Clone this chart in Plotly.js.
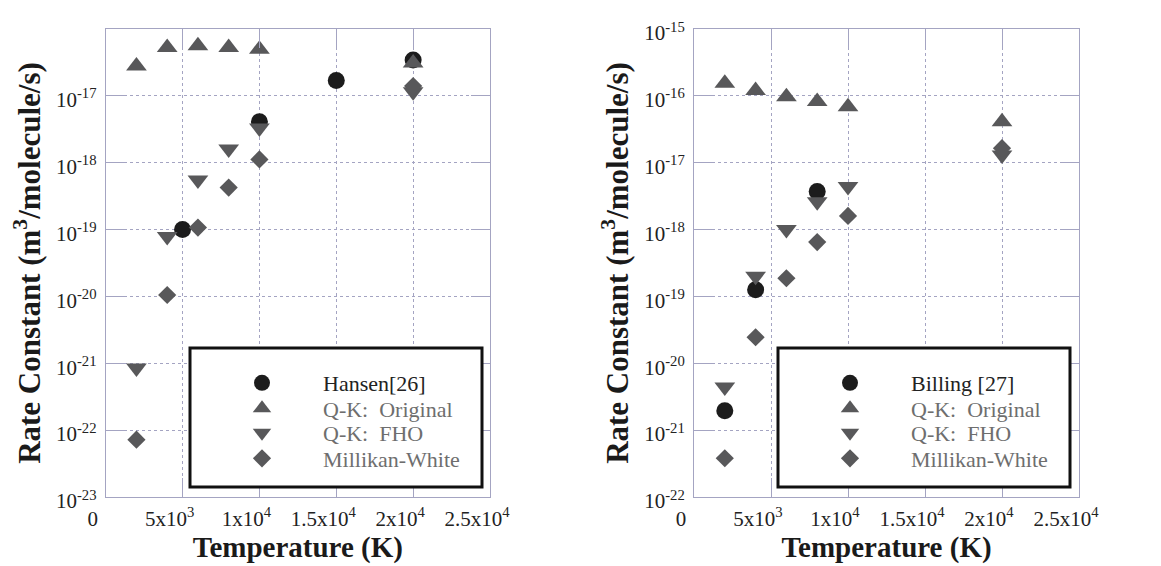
<!DOCTYPE html>
<html>
<head>
<meta charset="utf-8">
<script src="https://cdn.plot.ly/plotly-3.0.1.min.js"></script>
<style>html,body{margin:0;padding:0;background:#fff;}#chart{width:1161px;height:566px;}</style>
</head>
<body>
<div id="chart"></div>
<script>
// ---------- data ----------
const T_REF_LEFT = [5000, 10000, 15000, 20000];           // Hansen[26]
const K_REF_LEFT = [1.0e-19, 4.1e-18, 1.7e-17, 3.45e-17];
const T_REF_RIGHT = [2000, 4000, 8000];                    // Billing [27]
const K_REF_RIGHT = [1.95e-21, 1.26e-19, 3.7e-18];

const T_MODEL = [2000, 4000, 6000, 8000, 10000, 20000];
const K_QK_ORIG_LEFT = [2.8e-17, 5.3e-17, 5.6e-17, 5.3e-17, 5.0e-17, 3.1e-17];
const K_QK_FHO_LEFT  = [8.5e-22, 7.9e-20, 5.5e-19, 1.6e-18, 3.3e-18, 1.15e-17];
const K_MW_LEFT      = [7.2e-23, 1.05e-20, 1.07e-19, 4.25e-19, 1.12e-18, 1.4e-17];

const K_QK_ORIG_RIGHT = [1.54e-16, 1.2e-16, 9.7e-17, 8.2e-17, 6.9e-17, 4.1e-17];
const K_QK_FHO_RIGHT  = [4.4e-21, 2.0e-19, 1.0e-18, 2.6e-18, 4.4e-18, 1.3e-17];
const K_MW_RIGHT      = [3.8e-22, 2.45e-20, 1.87e-19, 6.5e-19, 1.6e-18, 1.65e-17];

const NAMES_LEFT  = ['Hansen[26]', 'Q-K:\u00a0 Original', 'Q-K:\u00a0 FHO', 'Millikan-White'];
const NAMES_RIGHT = ['Billing [27]', 'Q-K:\u00a0 Original', 'Q-K:\u00a0 FHO', 'Millikan-White'];

const X_TICKVALS = [0, 5000, 10000, 15000, 20000, 25000];
const X_TICKTEXT = ['0', '5x10<sup>3</sup>', '1x10<sup>4</sup>', '1.5x10<sup>4</sup>', '2x10<sup>4</sup>', '2.5x10<sup>4</sup>'];
const Y_EXP_LEFT  = [-23, -22, -21, -20, -19, -18, -17];
const Y_EXP_RIGHT = [-22, -21, -20, -19, -18, -17, -16, -15];

const X_TITLE = 'Temperature (K)';
const Y_TITLE = 'Rate Constant (m<sup>3</sup>/molecule/s)';

// ---------- layout helpers ----------
const W = 1161, H = 566;
const px = v => v / W;
const py = v => (H - v) / H;
const FONT = '"Liberation Serif", "Times New Roman", Times, serif';
const DARK = '#1c1c1c', GRAY = '#58585a';
const AXC = '#a4a4c2';

const SYMS = ['circle', 'triangle-up', 'triangle-down', 'diamond'];
const SIZES = [17, 18, 18, 14];
const COLORS = [DARK, GRAY, GRAY, GRAY];

function mkTrace(x, y, i, side) {
  const suffix = side === 0 ? '' : '2';
  const names = side === 0 ? NAMES_LEFT : NAMES_RIGHT;
  const legIdx = side * 4 + i + 1;
  return {
    type: 'scatter', mode: 'markers', x: x, y: y, name: names[i],
    xaxis: 'x' + suffix, yaxis: 'y' + suffix,
    legend: legIdx === 1 ? 'legend' : 'legend' + legIdx,
    marker: {symbol: SYMS[i], size: SIZES[i], color: COLORS[i], line: {width: 0}},
    hoverinfo: 'x+y'
  };
}

const data = [
  mkTrace(T_REF_LEFT, K_REF_LEFT, 0, 0),
  mkTrace(T_MODEL, K_QK_ORIG_LEFT, 1, 0),
  mkTrace(T_MODEL, K_QK_FHO_LEFT, 2, 0),
  mkTrace(T_MODEL, K_MW_LEFT, 3, 0),
  mkTrace(T_REF_RIGHT, K_REF_RIGHT, 0, 1),
  mkTrace(T_MODEL, K_QK_ORIG_RIGHT, 1, 1),
  mkTrace(T_MODEL, K_QK_FHO_RIGHT, 2, 1),
  mkTrace(T_MODEL, K_MW_RIGHT, 3, 1)
];

function xAxis(x0, x1, anchor) {
  return {
    domain: [px(x0), px(x1)], anchor: anchor, range: [0, 25000],
    tickmode: 'array', tickvals: X_TICKVALS, ticktext: X_TICKTEXT,
    ticks: 'inside', ticklen: 19, tickwidth: 1, tickcolor: AXC,
    showline: true, linecolor: AXC, linewidth: 1, mirror: 'ticks',
    showgrid: true, gridcolor: AXC, gridwidth: 1, griddash: 'dot', zeroline: false,
    tickfont: {family: FONT, size: 21, color: '#222'},
    ticklabelshift: -13, ticklabelstandoff: 3,
    title: {text: X_TITLE, font: {family: FONT, size: 29, color: '#1a1a1a', weight: 'bold'}, standoff: 6},
    fixedrange: true
  };
}
function yAxis(exps, anchor) {
  return {
    domain: [py(497), py(29)], anchor: anchor, type: 'log',
    range: [exps[0], exps[0] + 7],
    tickmode: 'array', tickvals: exps.map(e => Math.pow(10, e)),
    ticktext: exps.map(e => '10<sup>' + e + '</sup>'),
    ticks: 'inside', ticklen: 19, tickwidth: 1, tickcolor: AXC,
    showline: true, linecolor: AXC, linewidth: 1, mirror: 'ticks',
    showgrid: true, gridcolor: AXC, gridwidth: 1, griddash: 'dot', zeroline: false,
    tickfont: {family: FONT, size: 21, color: '#222'},
    ticklabelshift: 4, ticklabelstandoff: 4,
    title: {text: Y_TITLE, font: {family: FONT, size: 31, color: '#1a1a1a', weight: 'bold'}, standoff: 6},
    fixedrange: true
  };
}

const BOX_L = 190, BOX_R = 778, BOX_W = 292, BOX_T = 348, BOX_B = 487;
const ROW_Y = [383, 408.5, 433, 458.5];

function mkLegend(boxLeft, row, color) {
  return {
    x: px(boxLeft + 11), xanchor: 'left', y: py(ROW_Y[row]), yanchor: 'middle',
    bgcolor: 'rgba(0,0,0,0)', borderwidth: 0, itemwidth: 112,
    font: {family: FONT, size: 22, color: color},
    itemclick: false, itemdoubleclick: false
  };
}

const layout = {
  width: W, height: H,
  margin: {l: 0, r: 0, t: 0, b: 0},
  paper_bgcolor: '#fff', plot_bgcolor: '#fff',
  showlegend: true,
  xaxis: xAxis(105.7, 490, 'y'),
  yaxis: yAxis(Y_EXP_LEFT, 'x'),
  xaxis2: xAxis(694, 1079, 'y2'),
  yaxis2: yAxis(Y_EXP_RIGHT, 'x2'),
  shapes: [BOX_L, BOX_R].map(l => ({
    type: 'rect', xref: 'paper', yref: 'paper', layer: 'above',
    x0: px(l), x1: px(l + BOX_W), y0: py(BOX_B), y1: py(BOX_T),
    line: {color: '#111', width: 3}, fillcolor: '#fff'
  }))
};
[BOX_L, BOX_R].forEach((bl, side) => {
  for (let r = 0; r < 4; r++) {
    const idx = side * 4 + r + 1;
    layout[idx === 1 ? 'legend' : 'legend' + idx] = mkLegend(bl, r, r === 0 ? '#222' : '#6e6e6e');
  }
});

Plotly.newPlot('chart', data, layout, {displayModeBar: false, staticPlot: false});
</script>
</body>
</html>
